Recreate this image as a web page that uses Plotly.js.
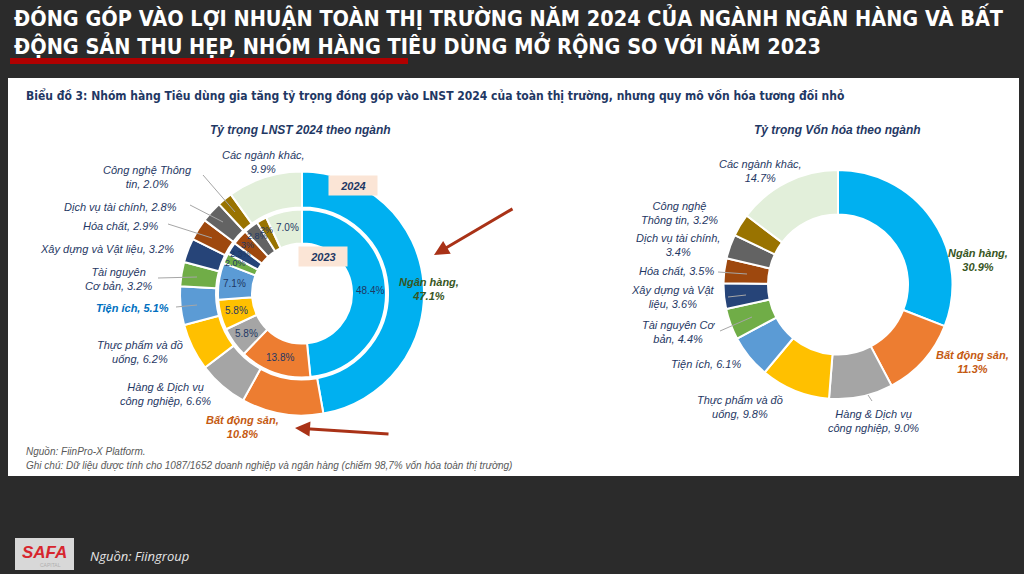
<!DOCTYPE html>
<html>
<head>
<meta charset="utf-8">
<script src="https://cdn.plot.ly/plotly-3.0.1.min.js"></script>
<style>
html,body{margin:0;padding:0;background:#2b2b2b;}
#chart{width:1024px;height:574px;}
</style>
</head>
<body>
<div id="chart"></div>
<script>
// ---------------- DATA ----------------
const categories = ["Ngân hàng","Bất động sản","Hàng & Dịch vụ công nghiệp","Thực phẩm và đồ uống","Tiện ích","Tài nguyên Cơ bản","Xây dựng và Vật liệu","Hóa chất","Dịch vụ tài chính","Công nghệ Thông tin","Các ngành khác"];
const profit2024 = [47.1,10.8,6.6,6.2,5.1,3.2,3.2,2.9,2.8,2.0,9.9];
const profit2023 = [48.4,13.8,5.8,5.8,7.1,2.0,2.3,3.0,2.8,2.0,7.0];
const profit2023Labels = ["48.4%","13.8%","5.8%","5.8%","7.1%","2.0%","2.3%","3%","2.8%","2%","7.0%"];
const marketCap = [30.9,11.3,9.0,9.8,6.1,4.4,3.6,3.5,3.4,3.2,14.7];
const colors = ["#00B0F0","#ED7D31","#A5A5A5","#FFC000","#5B9BD5","#70AD47","#264478","#9E480E","#636363","#997300","#E2EFDA"];

const titleText = "ĐÓNG GÓP VÀO LỢI NHUẬN TOÀN THỊ TRƯỜNG NĂM 2024 CỦA NGÀNH NGÂN HÀNG VÀ BẤT<br>ĐỘNG SẢN THU HẸP, NHÓM HÀNG TIÊU DÙNG MỞ RỘNG SO VỚI NĂM 2023";
const subtitleText = "Biểu đồ 3: Nhóm hàng Tiêu dùng gia tăng tỷ trọng đóng góp vào LNST 2024 của toàn thị trường, nhưng quy mô vốn hóa tương đối nhỏ";
const leftTitle = "Tỷ trọng LNST 2024 theo ngành";
const rightTitle = "Tỷ trọng Vốn hóa theo ngành";
const note1 = "Nguồn: FiinPro-X Platform.";
const note2 = "Ghi chú: Dữ liệu được tính cho 1087/1652 doanh nghiệp và ngân hàng (chiếm 98,7% vốn hóa toàn thị trường)";
const footerSource = "Nguồn: Fiingroup";

// ---------------- LAYOUT HELPERS ----------------
const W = 1024, H = 574;
const px = x => x / W;
const py = y => 1 - y / H;
const NAVY = "#1F3864";

function dom(cx, cy, r){ return {x:[px(cx-r), px(cx+r)], y:[py(cy+r), py(cy-r)]}; }

// geometry (pixels)
const L = {cx:302, cy:293.5, rOut:122, rMid:86, rIn:50};
const R = {cx:838, cy:284.5, r:114.5, rIn:70};

const traces = [
  {type:"pie", values:profit2024, labels:categories, sort:false, direction:"clockwise", rotation:0,
   marker:{colors:colors, line:{color:"#ffffff", width:2}}, hole:L.rMid/L.rOut, textinfo:"none",
   hoverinfo:"skip", domain:dom(L.cx,L.cy,L.rOut), showlegend:false},
  {type:"pie", values:profit2023, labels:categories, sort:false, direction:"clockwise", rotation:0,
   marker:{colors:colors, line:{color:"#ffffff", width:2}}, hole:L.rIn/(L.rMid-2), textinfo:"none",
   hoverinfo:"skip", domain:dom(L.cx,L.cy,L.rMid-2), showlegend:false},
  {type:"pie", values:marketCap, labels:categories, sort:false, direction:"clockwise", rotation:0,
   marker:{colors:colors, line:{color:"#ffffff", width:2}}, hole:R.rIn/R.r, textinfo:"none",
   hoverinfo:"skip", domain:dom(R.cx,R.cy,R.r), showlegend:false}
];

// label text with a line break after word k
function labelText(i, vals, k){
  const words = (categories[i] + ", " + vals[i].toFixed(1) + "%").split(" ");
  if (k == null) return words.join(" ");
  return words.slice(0,k).join(" ") + "<br>" + words.slice(k).join(" ");
}

const GREEN = "#375623", ORANGE = "#C55A11", BRIGHT = "#0070C0";
// outside label placement: [index, x, y, breakAfter, color, bold]
const leftLabelPos = [
  [0, 429, 289, 2, GREEN, true],
  [1, 242, 427, 3, ORANGE, true],
  [2, 165, 394, 4, NAVY, false],
  [3, 140, 352, 4, NAVY, false],
  [4, 132, 308, null, BRIGHT, true],
  [5, 118, 279, 2, NAVY, false],
  [6, 107, 249, null, NAVY, false],
  [7, 120, 226, null, NAVY, false],
  [8, 120, 207, null, NAVY, false],
  [9, 147, 177, 3, NAVY, false],
  [10, 263, 162, 3, NAVY, false]
];
const rightLabelPos = [
  [0, 978, 260, 2, GREEN, true],
  [1, 972, 362, 3, ORANGE, true],
  [2, 873, 421, 4, NAVY, false],
  [3, 740, 407, 4, NAVY, false],
  [4, 706, 364, null, NAVY, false],
  [5, 678, 332, 3, NAVY, false],
  [6, 673, 297, 4, NAVY, false],
  [7, 676, 271, null, NAVY, false],
  [8, 678, 245, 4, NAVY, false],
  [9, 679, 213, 2, NAVY, false],
  [10, 760, 171, 3, NAVY, false]
];
// leader lines [x0,y0,x1,y1]
const leaders = [
  [203,175,235,212],[190,205,223,222],[168,224,212,238],[158,278,197,277],[176,307,197,305],
  [718,272,747,274],[728,297,746,295],[720,331,752,317],[868,395,872,401]
];

const annotations = [];
function addLabels(list, vals){
  list.forEach(([i,x,y,k,c,b]) => {
    let t = labelText(i, vals, k);
    if (b) t = "<b>" + t + "</b>";
    annotations.push({x:px(x), y:py(y), xref:"paper", yref:"paper", xanchor:"center", yanchor:"middle",
      text:"<i>"+t+"</i>", showarrow:false, align:"center",
      font:{family:"Liberation Sans, Arial, sans-serif", size:11, color:c}});
  });
}
addLabels(leftLabelPos, profit2024);
addLabels(rightLabelPos, marketCap);

// inner ring labels positioned along each slice's mid-angle
(function(){
  const tot = profit2023.reduce((a,b)=>a+b,0);
  let cum = 0;
  profit2023.forEach((v,i) => {
    const small = v < 3.5;
    const rr = small ? 73 : (L.rIn + L.rMid)/2;
    const mid = (cum + v/2)/tot * 2*Math.PI; cum += v;
    const x = L.cx + rr*Math.sin(mid), y = L.cy - rr*Math.cos(mid);
    annotations.push({x:px(x), y:py(y), xref:"paper", yref:"paper", xanchor:"center", yanchor:"middle",
      text:profit2023Labels[i], showarrow:false,
      font:{family:"Liberation Sans, Arial, sans-serif", size:small ? 9 : 10, color:NAVY}});
  });
})();

// year tags
[["2024",353,185],["2023",323,256]].forEach(([t,x,y]) => annotations.push({
  x:px(x), y:py(y), xref:"paper", yref:"paper", xanchor:"center", yanchor:"middle",
  text:"<b><i>"+t+"</i></b>", showarrow:false, bgcolor:"#FBE5D6", width:46, height:17,
  font:{family:"Liberation Sans, Arial, sans-serif", size:11, color:NAVY}}));

// arrows
annotations.push({x:px(434), y:py(255), xref:"paper", yref:"paper", ax:80, ay:-47, text:"",
  showarrow:true, arrowhead:2, arrowsize:1, arrowwidth:3, arrowcolor:"#A93217"});
annotations.push({x:px(295), y:py(428), xref:"paper", yref:"paper", ax:95, ay:6, text:"",
  showarrow:true, arrowhead:2, arrowsize:1, arrowwidth:3, arrowcolor:"#A93217"});

// titles & texts
const NARROW = "Liberation Sans Narrow, DejaVu Sans Condensed, Roboto Condensed, Arial Narrow, Liberation Sans, sans-serif";
annotations.push({x:px(12), y:py(31), xref:"paper", yref:"paper", xanchor:"left", yanchor:"middle", align:"left",
  text:"<b>"+titleText+"</b>", showarrow:false, font:{family:NARROW, size:21.5, color:"#ffffff"}});
annotations.push({x:px(24), y:py(96), xref:"paper", yref:"paper", xanchor:"left", yanchor:"middle",
  text:"<b>"+subtitleText+"</b>", showarrow:false, font:{family:NARROW, size:12, color:NAVY}});
annotations.push({x:px(300), y:py(130), xref:"paper", yref:"paper", xanchor:"center", yanchor:"middle",
  text:"<b><i>"+leftTitle+"</i></b>", showarrow:false, font:{family:"Liberation Sans, Arial, sans-serif", size:12, color:NAVY}});
annotations.push({x:px(837), y:py(130), xref:"paper", yref:"paper", xanchor:"center", yanchor:"middle",
  text:"<b><i>"+rightTitle+"</i></b>", showarrow:false, font:{family:"Liberation Sans, Arial, sans-serif", size:12, color:NAVY}});
annotations.push({x:px(24), y:py(451), xref:"paper", yref:"paper", xanchor:"left", yanchor:"middle",
  text:"<i>"+note1+"</i>", showarrow:false, font:{family:"Liberation Sans, Arial, sans-serif", size:10, color:"#595959"}});
annotations.push({x:px(24), y:py(465), xref:"paper", yref:"paper", xanchor:"left", yanchor:"middle",
  text:"<i>"+note2+"</i>", showarrow:false, font:{family:"Liberation Sans, Arial, sans-serif", size:10, color:"#595959"}});
annotations.push({x:px(88), y:py(556), xref:"paper", yref:"paper", xanchor:"left", yanchor:"middle",
  text:"<i>"+footerSource+"</i>", showarrow:false, font:{family:"Open Sans, Liberation Sans, sans-serif", size:13, color:"#e6e6e6"}});
annotations.push({x:px(44), y:py(552), xref:"paper", yref:"paper", xanchor:"center", yanchor:"middle",
  text:"<b><i>SAFA</i></b>", showarrow:false, font:{family:"Liberation Sans, Arial, sans-serif", size:17, color:"#D7262E"}});
annotations.push({x:px(50), y:py(565), xref:"paper", yref:"paper", xanchor:"center", yanchor:"middle",
  text:"CAPITAL", showarrow:false, font:{family:"Liberation Sans, Arial, sans-serif", size:5, color:"#b0b0b0"}});

const shapes = [
  {type:"rect", xref:"paper", yref:"paper", x0:px(8), x1:px(1019), y0:py(476), y1:py(78),
   fillcolor:"#ffffff", line:{width:0}, layer:"below"},
  {type:"rect", xref:"paper", yref:"paper", x0:px(10), x1:px(408), y0:py(64), y1:py(58),
   fillcolor:"#B00000", line:{width:0}, layer:"below"},
  {type:"rect", xref:"paper", yref:"paper", x0:px(15), x1:px(74), y0:py(570), y1:py(538),
   fillcolor:"rgba(235,235,235,0.9)", line:{width:0}, layer:"below"}
];
leaders.forEach(([x0,y0,x1,y1]) => shapes.push({type:"line", xref:"paper", yref:"paper",
  x0:px(x0), y0:py(y0), x1:px(x1), y1:py(y1), line:{color:"#A6A6A6", width:1}, layer:"above"}));

const layout = {
  width:W, height:H, margin:{l:0,r:0,t:0,b:0}, paper_bgcolor:"#2b2b2b", plot_bgcolor:"#2b2b2b",
  showlegend:false, annotations:annotations, shapes:shapes
};
Plotly.newPlot("chart", traces, layout, {staticPlot:true, displayModeBar:false});
</script>
</body>
</html>
